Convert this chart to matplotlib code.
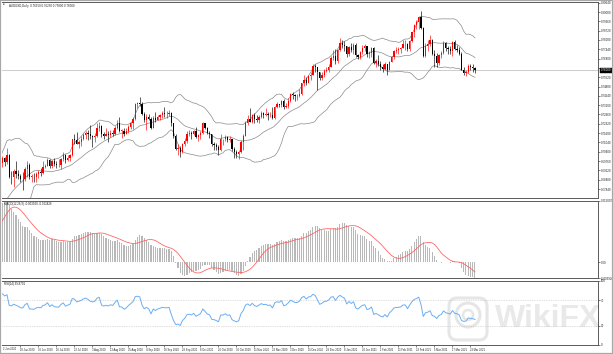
import numpy as np
import pandas as pd
import matplotlib
matplotlib.use("Agg")
import matplotlib.pyplot as plt
from matplotlib.patches import Rectangle, FancyBboxPatch, Circle
from matplotlib.transforms import IdentityTransform

plt.rcParams['font.family'] = ['Liberation Sans', 'DejaVu Sans']

# ---------------- data ----------------
symbol = "AUDUSD,Daily"

# closes before the first bar (Apr 1 - Jun 1 2020), needed for the indicators
warmup_close = [0.6085, 0.6080, 0.6000, 0.6140, 0.6215, 0.6225, 0.6365, 0.6370, 0.6385, 0.6410,
                0.6330, 0.6335, 0.6370, 0.6350, 0.6305, 0.6350, 0.6390, 0.6385, 0.6445, 0.6500,
                0.6575, 0.6510,
                0.6405, 0.6445, 0.6445, 0.6420, 0.6495, 0.6525, 0.6500, 0.6460, 0.6470, 0.6460,
                0.6410, 0.6535, 0.6555, 0.6585, 0.6560, 0.6535, 0.6560, 0.6640, 0.6625, 0.6630,
                0.6665, 0.6810]

opens = [
    # Jun
    .6810, .6915, .6960, .6945, .6960, .6995, .6970, .7020, .6870, .6865,
    .6905, .6890, .6875, .6855, .6850, .6920, .6950, .6870, .6870, .6865, .6890,
    # Jul
    .6900, .6895, .6935, .6945, .6985, .6945, .6975, .6955, .6950, .6950,
    .6990, .7015, .6985, .7000, .7015, .7125, .7120, .7095, .7105, .7125, .7155, .7170, .7160,
    # Aug
    .7145, .7140, .7150, .7205, .7220, .7160, .7150, .7160, .7155, .7170,
    .7165, .7205, .7240, .7185, .7185, .7165, .7180, .7210, .7235, .7265, .7365,
    # Sep
    .7375, .7370, .7300, .7260, .7280, .7265, .7205, .7275, .7255, .7280,
    .7290, .7305, .7300, .7300, .7305, .7235, .7145, .7060, .7065, .7035, .7090, .7115,
    # Oct
    .7165, .7170, .7160, .7180, .7140, .7155, .7170, .7235, .7205, .7170,
    .7160, .7090, .7085, .7070, .7050, .7125, .7125, .7140, .7120, .7125, .7060, .7040,
    # Nov
    .7025, .7035, .7110, .7150, .7240, .7265, .7245, .7290, .7265, .7255,
    .7280, .7305, .7295, .7300, .7290, .7295, .7270, .7345, .7365, .7360, .7390,
    # Dec
    .7345, .7355, .7390, .7440, .7430, .7420, .7420, .7440, .7510, .7535,
    .7515, .7560, .7570, .7630, .7620, .7585, .7545, .7565, .7595, .7600, .7625, .7685,
    # Jan
    .7695, .7665, .7740, .7790, .7775, .7765, .7710, .7760, .7740, .7775,
    .7705, .7690, .7725, .7755, .7765, .7710, .7720, .7750, .7650, .7665,
    # Feb
    .7645, .7625, .7610, .7640, .7605, .7660, .7690, .7735, .7740, .7745,
    .7750, .7780, .7780, .7745, .7800, .7860, .7910, .7930, .7965, .7890,
    # Mar
    .7700, .7770, .7780, .7810, .7715, .7700, .7650, .7705, .7720, .7790,
    .7755, .7745, .7730, .7795, .7745, .7740, .7715, .7605, .7580, .7585, .7630, .7620, .7615]

highs = [
    .6927, .6985, .6985, .7010, .7010, .7005, .7064, .7025, .6905, .6920,
    .6975, .6915, .6890, .6900, .6935, .6975, .6960, .6890, .6895, .6900, .6915,
    .6930, .6975, .6955, .6995, .6990, .6985, .7000, .6975, .6990, .6995,
    .7040, .7025, .7015, .7025, .7130, .7165, .7175, .7120, .7145, .7170, .7180, .7190, .7225,
    .7155, .7170, .7240, .7243, .7225, .7175, .7205, .7180, .7190, .7190,
    .7215, .7255, .7276, .7195, .7205, .7205, .7225, .7245, .7280, .7375, .7385,
    .7413, .7385, .7310, .7300, .7300, .7280, .7285, .7310, .7290, .7300,
    .7320, .7345, .7320, .7325, .7310, .7240, .7160, .7090, .7080, .7100, .7135, .7180,
    .7190, .7185, .7190, .7210, .7165, .7180, .7245, .7240, .7210, .7180,
    .7165, .7105, .7100, .7085, .7160, .7130, .7155, .7150, .7150, .7130, .7070, .7050,
    .7055, .7120, .7160, .7250, .7290, .7340, .7300, .7305, .7290, .7290,
    .7320, .7315, .7340, .7310, .7310, .7345, .7355, .7380, .7370, .7395, .7400,
    .7375, .7410, .7445, .7450, .7440, .7440, .7470, .7515, .7570, .7555,
    .7565, .7585, .7640, .7640, .7625, .7590, .7585, .7610, .7625, .7640, .7695, .7740,
    .7745, .7745, .7820, .7805, .7800, .7770, .7765, .7790, .7785, .7785,
    .7715, .7735, .7775, .7780, .7770, .7735, .7760, .7760, .7675, .7705,
    .7665, .7645, .7655, .7645, .7665, .7700, .7740, .7760, .7760, .7760,
    .7805, .7805, .7785, .7810, .7865, .7920, .7945, .7975, .8007, .7895,
    .7790, .7805, .7840, .7815, .7740, .7720, .7715, .7735, .7800, .7795,
    .7770, .7765, .7800, .7810, .7775, .7760, .7725, .7625, .7605, .7640, .7640, .7640, .7625]

lows = [
    .6800, .6880, .6915, .6925, .6935, .6940, .6955, .6860, .6820, .6800,
    .6860, .6855, .6830, .6777, .6840, .6870, .6855, .6835, .6835, .6835, .6860,
    .6875, .6890, .6925, .6940, .6925, .6930, .6940, .6925, .6935, .6920,
    .6975, .6960, .6975, .6975, .7010, .7095, .7090, .7065, .7080, .7120, .7130, .7120, .7125,
    .7075, .7110, .7140, .7180, .7140, .7130, .7150, .7110, .7140, .7150,
    .7155, .7195, .7175, .7135, .7150, .7160, .7170, .7195, .7195, .7260, .7340,
    .7355, .7290, .7245, .7190, .7255, .7195, .7200, .7245, .7255, .7255,
    .7270, .7280, .7270, .7285, .7215, .7135, .7050, .7020, .7006, .7030, .7080, .7100,
    .7150, .7125, .7155, .7135, .7115, .7130, .7165, .7195, .7160, .7135,
    .7080, .7055, .7050, .7020, .7045, .7085, .7115, .7110, .7105, .7045, .7000, .7000,
    .6991, .7030, .7055, .7145, .7225, .7245, .7240, .7240, .7245, .7240,
    .7275, .7270, .7285, .7255, .7280, .7265, .7265, .7340, .7345, .7350, .7335,
    .7340, .7340, .7380, .7405, .7390, .7395, .7415, .7430, .7495, .7500,
    .7510, .7535, .7565, .7585, .7465, .7530, .7535, .7555, .7590, .7590, .7620, .7670,
    .7645, .7650, .7730, .7750, .7730, .7690, .7700, .7725, .7715, .7690,
    .7675, .7680, .7715, .7730, .7690, .7685, .7690, .7640, .7620, .7630,
    .7600, .7590, .7605, .7565, .7600, .7655, .7680, .7720, .7715, .7720,
    .7750, .7740, .7730, .7735, .7795, .7830, .7880, .7880, .7880, .7690,
    .7690, .7730, .7765, .7705, .7620, .7625, .7635, .7685, .7715, .7735,
    .7710, .7715, .7700, .7740, .7725, .7705, .7600, .7565, .7560, .7580, .7605, .7590, .7580]

closes = [
    .6915, .6960, .6945, .6960, .6995, .6970, .7020, .6870, .6865, .6905,
    .6890, .6875, .6855, .6850, .6920, .6950, .6870, .6870, .6865, .6890, .6900,
    .6895, .6935, .6945, .6985, .6945, .6975, .6955, .6950, .6950, .6990,
    .7015, .6985, .7000, .7015, .7125, .7120, .7095, .7105, .7125, .7155, .7170, .7160, .7145,
    .7140, .7150, .7205, .7220, .7160, .7150, .7160, .7155, .7170, .7165,
    .7205, .7240, .7185, .7185, .7165, .7180, .7210, .7235, .7265, .7365, .7375,
    .7370, .7300, .7260, .7280, .7265, .7205, .7275, .7255, .7280, .7290,
    .7305, .7300, .7300, .7305, .7235, .7145, .7060, .7065, .7035, .7090, .7115, .7165,
    .7170, .7160, .7180, .7140, .7155, .7170, .7235, .7205, .7170, .7160,
    .7090, .7085, .7070, .7050, .7125, .7125, .7140, .7120, .7125, .7060, .7040, .7025,
    .7035, .7110, .7150, .7240, .7265, .7245, .7290, .7265, .7255, .7280,
    .7305, .7295, .7300, .7290, .7295, .7270, .7345, .7365, .7360, .7390, .7345,
    .7355, .7390, .7440, .7430, .7420, .7420, .7440, .7510, .7535, .7515,
    .7560, .7570, .7630, .7620, .7585, .7545, .7565, .7595, .7600, .7625, .7685, .7695,
    .7665, .7740, .7790, .7775, .7765, .7710, .7760, .7740, .7775, .7705,
    .7690, .7725, .7755, .7765, .7710, .7720, .7750, .7650, .7665, .7645,
    .7625, .7610, .7640, .7605, .7660, .7690, .7735, .7740, .7745, .7750,
    .7780, .7780, .7745, .7800, .7860, .7910, .7930, .7965, .7890, .7700,
    .7770, .7780, .7810, .7715, .7700, .7650, .7705, .7720, .7790, .7755,
    .7745, .7730, .7795, .7745, .7740, .7715, .7605, .7580, .7585, .7630, .7620, .7615, .7600]

holidays = ['2020-12-25', '2021-01-01']
dates = pd.bdate_range('2020-06-02', '2021-03-31')
dates = dates[~dates.isin(pd.to_datetime(holidays))]

price_ticks = [0.80640, 0.80000, 0.79360, 0.78720, 0.78080, 0.77440, 0.76800, 0.76160,
               0.75520, 0.74880, 0.74240, 0.73600, 0.72960, 0.72320, 0.71680, 0.71040,
               0.70400, 0.69760, 0.69120, 0.68480, 0.67840]
rsi_ticks = [0, 30, 70, 100]
label_idx = list(range(12, 215, 8))

n = len(closes)
assert len(opens) == n and len(highs) == n and len(lows) == n and len(dates) == n

# ---------------- indicators ----------------
allc = pd.Series(warmup_close + closes, dtype=float)
nw = len(warmup_close)
mid = allc.rolling(20).mean()
sd = allc.rolling(20).std(ddof=0)
upper = (mid + 2 * sd).values[nw:]
lower = (mid - 2 * sd).values[nw:]
mid = mid.values[nw:]
ema12 = allc.ewm(span=12, adjust=False).mean()
ema26 = allc.ewm(span=26, adjust=False).mean()
macd_all = ema12 - ema26
sig_all = macd_all.rolling(9).mean()
macd = macd_all.values[nw:]
sig = sig_all.values[nw:]
d = allc.diff()
g = d.clip(lower=0).ewm(alpha=1 / 14, adjust=False).mean()
ls = (-d.clip(upper=0)).ewm(alpha=1 / 14, adjust=False).mean()
rsi = (100 - 100 / (1 + g / ls)).values[nw:]

# ---------------- figure ----------------
W, H = 613, 354
fig = plt.figure(figsize=(W / 100, H / 100), dpi=100)
fig.patch.set_facecolor('white')


def rect(x0, y0, x1, y1):
    return [x0 / W, 1 - y1 / H, (x1 - x0) / W, (y1 - y0) / H]


ax = fig.add_axes(rect(2, 2, 598, 198))
axm = fig.add_axes(rect(2, 201, 598, 278), sharex=ax)
axr = fig.add_axes(rect(2, 281, 598, 345), sharex=ax)

x = np.arange(n)
o = np.array(opens); h = np.array(highs); l = np.array(lows); c = np.array(closes)
xlim = (3.78, 268.67)

LAB = 2.05
XLAB = 1.9
for a in (ax, axm, axr):
    a.set_facecolor('none')
    a.spines['left'].set_visible(False)
    a.spines['right'].set_color('#404040')
    a.spines['right'].set_linewidth(0.6)
    for s in ('top', 'bottom'):
        a.spines[s].set_color('#5a5a5a')
        a.spines[s].set_linewidth(0.7)
    a.yaxis.tick_right()
    a.tick_params(axis='y', which='both', direction='out', length=1.5, width=0.4,
                  pad=0.6, labelsize=LAB, colors='#202020')
    a.tick_params(axis='x', bottom=False, labelbottom=False)
    a.grid(False)

# candles
up = c >= o
col = np.where(up, '#ff0000', '#000000')
ax.vlines(x, l, h, colors=col, linewidth=0.45, zorder=3)
body = np.maximum(np.abs(c - o), 0.00012)
ax.bar(x, body, bottom=np.minimum(o, c), width=0.62, color=col, linewidth=0, zorder=4)

# bollinger bands
for band in (upper, mid, lower):
    ax.plot(x, band, color='#8a8a8a', lw=0.5, zorder=2)

ax.axhline(c[-1], color='#c4c4c4', lw=0.6, zorder=1)
ax.set_xlim(*xlim)
ax.set_ylim(0.67223, 0.80689)
ax.set_yticks(price_ticks)
ax.set_yticklabels(["" if abs(v - c[-1]) < 0.0035 else f"{v:.5f}" for v in price_ticks])
ax.text(1.004, c[-1], f"{c[-1]:.5f}", transform=ax.get_yaxis_transform(),
        fontsize=LAB, color='white', va='center', ha='left', zorder=10, clip_on=False,
        bbox=dict(boxstyle='square,pad=0.25', fc='black', ec='black', lw=0.3))
ax.text(0.012, 0.992, f"{symbol}  {o[-1]:.5f} {h[-1]:.5f} {l[-1]:.5f} {c[-1]:.5f}",
        transform=ax.transAxes, fontsize=LAB, va='top', ha='left', color='#202020')
ax.text(0.002, 0.992, "\u25BC", transform=ax.transAxes, fontsize=1.6, va='top',
        ha='left', color='#202020', family='DejaVu Sans')

# MACD
vis = x >= xlim[0]
axm.bar(x, macd, width=0.45, color='#b8b8b8', linewidth=0, zorder=2)
axm.plot(x, sig, color='#ff5a5a', lw=0.55, zorder=3)
mmax = max(np.nanmax(macd[vis]), np.nanmax(sig[vis]))
mmin = min(np.nanmin(macd[vis]), np.nanmin(sig[vis]))
axm.set_ylim(mmin, mmax)
axm.set_yticks([mmin, 0.0, mmax])
axm.set_yticklabels([f"{mmin:.6f}", "0.00", f"{mmax:.6f}"])
axm.text(0.004, 0.985, f"MACD(12,26,9) {macd[-1]:.6f} {sig[-1]:.6f}", transform=axm.transAxes,
         fontsize=LAB, va='top', ha='left', color='#202020')

# RSI
axr.plot(x, rsi, color='#6aaef2', lw=0.7, zorder=3)
for lev in (70, 30):
    axr.axhline(lev, color='#c0c0c0', lw=0.5, ls=(0, (1, 1.5)), zorder=1)
axr.set_ylim(0, 100)
axr.set_yticks(rsi_ticks)
axr.set_yticklabels([str(v) for v in rsi_ticks])
axr.text(0.004, 0.985, f"RSI(14) {rsi[-1]:.4f}", transform=axr.transAxes,
         fontsize=LAB, va='top', ha='left', color='#202020')

# time axis
axr.tick_params(axis='x', bottom=True, labelbottom=True, direction='out', length=1.5,
                width=0.4, pad=0.5, labelsize=XLAB, colors='#202020')
axr.set_xticks(label_idx)
axr.set_xticklabels([f"{dates[i].day} {dates[i].strftime('%b %Y')}" for i in label_idx])
for t in axr.get_xticklabels():
    t.set_ha('left')
axr.text(0.001, -0.035, f"{dates[0].day} {dates[0].strftime('%b %Y')}", transform=axr.transAxes,
         fontsize=XLAB, va='top', ha='left', color='#202020')
axr.set_xlim(*xlim)

# watermark (behind transparent axes)
idt = IdentityTransform()
fig.add_artist(FancyBboxPatch((449, H - 340), 38, 42, boxstyle='round,pad=0,rounding_size=8',
                              transform=idt, fill=False, ec='#e6e6e6', lw=2.2, zorder=-2))
fig.add_artist(Circle((468, H - 315), 12, transform=idt, fill=False, ec='#e6e6e6',
                      lw=2.2, zorder=-2))
fig.add_artist(Circle((468, H - 315), 5, transform=idt, fill=False, ec='#e6e6e6',
                      lw=1.8, zorder=-2))
fig.text(548 / W, 1 - 319 / H, "WikiFX", fontsize=23, fontweight='bold', color='#e9e9e9',
         ha='center', va='center', zorder=-2)

# window border
fig.add_artist(Rectangle((0, 0), 1, 1, transform=fig.transFigure, fill=False,
                         ec='#a8a8a8', lw=1.6, zorder=20))

fig.savefig('out.png', dpi=100)
